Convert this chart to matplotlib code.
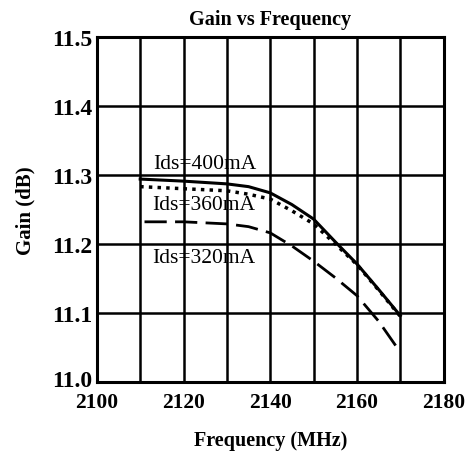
import numpy as np
import matplotlib.pyplot as plt
from matplotlib.transforms import ScaledTranslation

plt.rcParams['font.family'] = ['Liberation Serif', 'DejaVu Serif']

freq = [2110, 2120, 2130, 2135, 2140, 2145, 2150, 2155, 2160, 2165, 2170]
gain_400 = [11.294, 11.291, 11.287, 11.283, 11.274, 11.257, 11.236, 11.203, 11.171, 11.134, 11.096]
gain_360 = [11.283, 11.280, 11.277, 11.272, 11.265, 11.248, 11.229, 11.200, 11.170, 11.133, 11.095]
freq_320 = [2111, 2120, 2130, 2135, 2140, 2145, 2150, 2155, 2160, 2165, 2170]
gain_320 = [11.232, 11.232, 11.229, 11.225, 11.216, 11.197, 11.175, 11.151, 11.125, 11.088, 11.043]

labels = ['Ids=400mA', 'Ids=360mA', 'Ids=320mA']
label_pos = [(2113, 11.317), (2112.7, 11.257), (2112.7, 11.180)]

fig = plt.figure(figsize=(4.77, 4.52), dpi=100)
ax = fig.add_axes([0.203, 0.153, 0.727, 0.763])

ax.plot(freq, gain_400, color='black', lw=2.2, ls='-')
ax.plot(freq, gain_360, color='black', lw=2.5, ls=(0, (1, 1.5)))
ax.plot(freq_320, gain_320, color='black', lw=2.0, ls=(0, (8, 3)))

for txt, (x, y) in zip(labels, label_pos):
    ax.text(x, y, txt, fontsize=15.5, va='center', ha='left')

ax.set_xlim(2100, 2180)
ax.set_ylim(11.0, 11.5)
ax.set_xticks(np.arange(2100, 2181, 20))
ax.set_xticks(np.arange(2100, 2181, 10), minor=True)
ax.set_yticks(np.arange(11.0, 11.51, 0.1))
ax.set_yticklabels(['11.0', '11.1', '11.2', '11.3', '11.4', '11.5'])
ax.grid(True, which='both', color='black', lw=1.8)
ax.tick_params(which='both', length=0)
ax.tick_params(axis='y', labelsize=17, pad=3)
ax.tick_params(axis='x', labelsize=15.5, pad=7)
for lab in ax.get_xticklabels() + ax.get_yticklabels():
    lab.set_fontweight('bold')
ylabs = ax.get_yticklabels()
ylabs[0].set_transform(ylabs[0].get_transform() + ScaledTranslation(0, 4 / 100, fig.dpi_scale_trans))

for s in ax.spines.values():
    s.set_linewidth(2.2)

ax.set_title('Gain vs Frequency', fontsize=14.5, fontweight='bold', pad=9)
ax.set_xlabel('Frequency (MHz)', fontsize=14.5, fontweight='bold', labelpad=13)
ax.set_ylabel('Gain (dB)', fontsize=15, fontweight='bold', labelpad=12)

fig.savefig('out.png', dpi=100)
